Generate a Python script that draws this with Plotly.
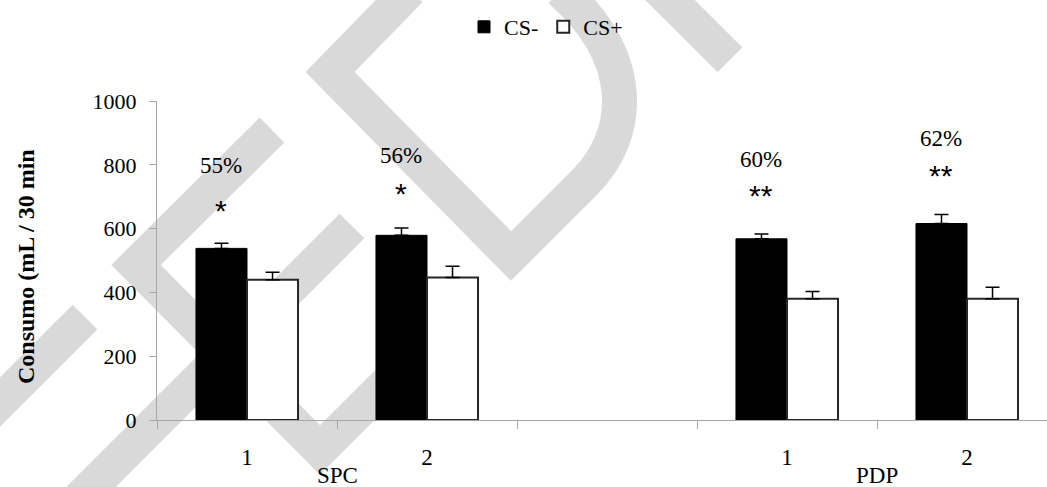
import plotly.graph_objects as go

# ---------------- data ----------------
categories = ["SPC-1", "SPC-2", "gap", "PDP-1", "PDP-2"]
tick_labels = ["1", "2", "", "1", "2"]
bar_categories = ["SPC-1", "SPC-2", "PDP-1", "PDP-2"]
cs_minus = [538, 579, 568, 616]
cs_minus_err = [16, 23, 15, 28]
cs_plus = [440, 447, 380, 380]
cs_plus_err = [23, 35, 23, 36]
pct_labels = ["55%", "56%", "60%", "62%"]
pct_y = [799, 830, 817, 883]
sig_labels = ["*", "*", "**", "**"]
sig_y = [658, 711, 705, 767]
group_labels = ["SPC", "PDP"]
group_pos = [0.5, 3.5]
y_ticks = [0, 200, 400, 600, 800, 1000]
y_title = "Consumo (mL / 30 min"

# ---------------- layout constants ----------------
W, H = 1047, 487
ML, MR, MT, MB = 157, 0, 101, 67
PW, PH = W - ML - MR, H - MT - MB
BARGAP = 0.433
SERIF = "Liberation Serif, Times New Roman, serif"
SANS = "Liberation Sans, Arial, sans-serif"
AXIS_GRAY = "#a6a6a6"

fig = go.Figure()
fig.add_trace(go.Bar(
    name="CS-", x=bar_categories, y=cs_minus,
    marker=dict(color="black", line=dict(color="black", width=1)),
    error_y=dict(type="data", array=cs_minus_err, arrayminus=[0] * len(cs_minus_err),
                 symmetric=False, color="black", thickness=1.5, width=7),
))
fig.add_trace(go.Bar(
    name="CS+", x=bar_categories, y=cs_plus,
    marker=dict(color="white", line=dict(color="#262626", width=2)),
    error_y=dict(type="data", array=cs_plus_err, arrayminus=[0] * len(cs_plus_err),
                 symmetric=False, color="black", thickness=1.5, width=7),
))

# annotations over the CS- bars
bar_w = (1 - BARGAP) / 2
annotations = []
for cat, p, py, s, sy in zip(bar_categories, pct_labels, pct_y, sig_labels, sig_y):
    xi = categories.index(cat) - bar_w / 2
    annotations.append(dict(x=xi, y=py, xref="x", yref="y", text=p, showarrow=False,
                            font=dict(family=SERIF, size=23, color="black"),
                            xanchor="center", yanchor="middle"))
    annotations.append(dict(x=xi, y=sy, xref="x", yref="y", text=s, showarrow=False,
                            font=dict(family=SANS, size=30, color="black"),
                            xanchor="center", yanchor="middle"))
for g, gx in zip(group_labels, group_pos):
    annotations.append(dict(x=gx, y=(420 - 475) / PH, xref="x", yref="paper", text=g,
                            showarrow=False, font=dict(family=SERIF, size=23, color="black"),
                            xanchor="center", yanchor="middle"))
annotations.append(dict(x=(26 - ML) / PW, y=(420 - 267) / PH, xref="paper", yref="paper",
                        text="<b>" + y_title + "</b>", textangle=-90, showarrow=False,
                        font=dict(family=SERIF, size=24, color="black"),
                        xanchor="center", yanchor="middle"))

# light-gray watermark stripes of the reference image (pixel paths -> paper coords)
def P(pts, curve=None):
    def c(x, y):
        return f"{(x - ML) / PW:.5f},{(420 - y) / PH:.5f}"
    s = "M " + " L ".join(c(x, y) for x, y in pts)
    if curve:
        s += " C " + " ".join(c(x, y) for x, y in curve)
    return s

stripe_paths = [
    P([(272, 130), (136, 265), (320, 450), (400, 370)]),
    P([(352, 226), (60, 518)]),
    P([(85, 317), (-20, 422)]),
    P([(410, -10), (330, 72), (511, 256), (585, 182)], [(630, 137), (640, 60), (560, -10)]),
    P([(640, -30), (730, 60)]),
]
shapes = [dict(type="path", path=p, xref="paper", yref="paper", layer="below",
               line=dict(color="#d9d9d9", width=35)) for p in stripe_paths]

fig.update_layout(
    width=W, height=H, margin=dict(l=ML, r=MR, t=MT, b=MB, pad=0),
    paper_bgcolor="white", plot_bgcolor="rgba(0,0,0,0)",
    barmode="group", bargap=BARGAP, bargroupgap=0,
    font=dict(family=SERIF, color="black"),
    showlegend=True,
    legend=dict(orientation="h", x=(546 - ML) / PW, xanchor="center",
                y=(420 - 27) / PH, yanchor="middle",
                font=dict(family=SERIF, size=22, color="black"),
                bgcolor="rgba(0,0,0,0)", itemwidth=30, traceorder="normal"),
    xaxis=dict(type="category", categoryorder="array", categoryarray=categories,
               tickmode="array", tickvals=categories, ticktext=tick_labels,
               tickson="boundaries", ticks="outside", ticklen=8, tickcolor=AXIS_GRAY,
               showline=True, linecolor=AXIS_GRAY, linewidth=1, showgrid=False,
               range=[-0.5, -0.5 + PW / 180], tickfont=dict(family=SERIF, size=23),
               ticklabelstandoff=16),
    yaxis=dict(range=[0, 1000], tickmode="array", tickvals=y_ticks, ticks="outside",
               ticklen=7, tickcolor=AXIS_GRAY, showline=True, linecolor=AXIS_GRAY,
               linewidth=1, showgrid=False, zeroline=False,
               tickfont=dict(family=SERIF, size=22), ticklabelstandoff=8),
    annotations=annotations, shapes=shapes,
)

fig.write_html("out.html", config={"displayModeBar": False},
               post_script="document.body.style.margin='0';document.body.style.overflow='hidden';")
